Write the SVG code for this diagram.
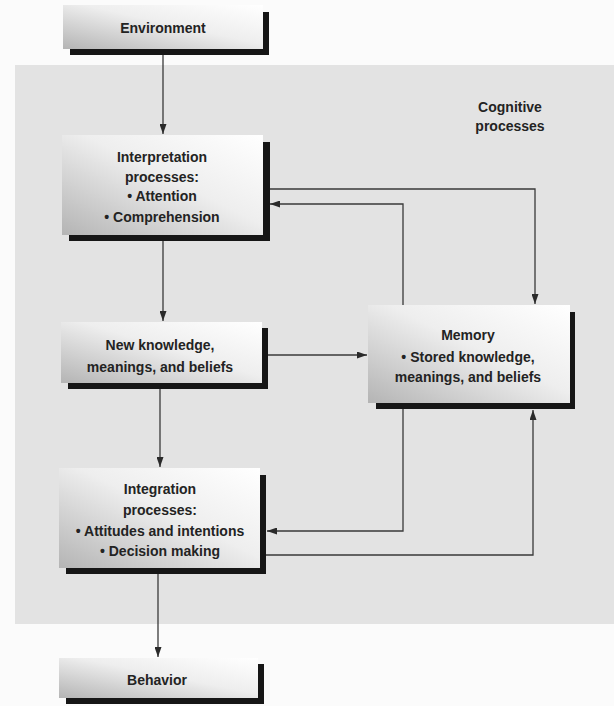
<svg xmlns="http://www.w3.org/2000/svg" width="614" height="706" viewBox="0 0 614 706">
  <style>
    .face { fill: url(#faceGrad); }
    .shadow { fill: #161616; }
    .lbl { font-family: "Liberation Sans", Arial, sans-serif; font-weight: bold; font-size: 14px; fill: #232323; text-anchor: middle; }
    .conn { fill: none; stroke: #3a3a3a; stroke-width: 1.3; }
  </style>
  <defs>
    <linearGradient id="faceGrad" x1="1" y1="0" x2="0" y2="1">
      <stop offset="0" stop-color="#ffffff"/>
      <stop offset="0.45" stop-color="#eeeeee"/>
      <stop offset="1" stop-color="#b4b4b4"/>
    </linearGradient>
    <marker id="arrow" markerWidth="10" markerHeight="7" refX="10" refY="3.5" orient="auto" markerUnits="userSpaceOnUse">
      <path d="M0,0 L10,3.5 L0,7 z" fill="#2a2a2a"/>
    </marker>
  </defs>

  <rect x="0" y="0" width="614" height="706" fill="#fbfbfb"/>
  <rect x="15" y="65" width="599" height="559" fill="#e3e3e3"/>

  <g id="connectors">
    <line class="conn" x1="163" y1="55" x2="163" y2="134" marker-end="url(#arrow)"/>
    <line class="conn" x1="163" y1="241" x2="163" y2="321" marker-end="url(#arrow)"/>
    <line class="conn" x1="268" y1="355" x2="367" y2="355" marker-end="url(#arrow)"/>
    <line class="conn" x1="160" y1="389" x2="160" y2="467" marker-end="url(#arrow)"/>
    <line class="conn" x1="158" y1="574" x2="158" y2="657" marker-end="url(#arrow)"/>
    <polyline class="conn" points="269,189 535,189 535,304" marker-end="url(#arrow)"/>
    <polyline class="conn" points="403,305 403,204 270,204" marker-end="url(#arrow)"/>
    <polyline class="conn" points="403,409 403,531 267,531" marker-end="url(#arrow)"/>
    <polyline class="conn" points="266,555 533,555 533,410" marker-end="url(#arrow)"/>
  </g>

  <g id="environment">
    <rect class="shadow" x="70" y="12" width="199" height="43"/>
    <rect class="face" x="63" y="5" width="200" height="44"/>
    <text class="lbl" x="163" y="33">Environment</text>
  </g>

  <g id="interpretation">
    <rect class="shadow" x="69" y="142" width="201" height="99"/>
    <rect class="face" x="62" y="135" width="201" height="100"/>
    <text class="lbl" x="162" y="162">Interpretation</text>
    <text class="lbl" x="162" y="182">processes:</text>
    <text class="lbl" x="162" y="201">• Attention</text>
    <text class="lbl" x="162" y="222">• Comprehension</text>
  </g>

  <g id="new-knowledge">
    <rect class="shadow" x="68" y="328" width="200" height="61"/>
    <rect class="face" x="61" y="322" width="201" height="61"/>
    <text class="lbl" x="160" y="350">New knowledge,</text>
    <text class="lbl" x="160" y="372">meanings, and beliefs</text>
  </g>

  <g id="memory">
    <rect class="shadow" x="376" y="312" width="199" height="97"/>
    <rect class="face" x="368" y="305" width="202" height="98"/>
    <text class="lbl" x="468" y="340">Memory</text>
    <text class="lbl" x="468" y="362">• Stored knowledge,</text>
    <text class="lbl" x="468" y="382">meanings, and beliefs</text>
  </g>

  <g id="integration">
    <rect class="shadow" x="66" y="475" width="200" height="99"/>
    <rect class="face" x="59" y="468" width="201" height="100"/>
    <text class="lbl" x="160" y="494">Integration</text>
    <text class="lbl" x="160" y="515">processes:</text>
    <text class="lbl" x="160" y="536">• Attitudes and intentions</text>
    <text class="lbl" x="160" y="556">• Decision making</text>
  </g>

  <g id="behavior">
    <rect class="shadow" x="66" y="664" width="198" height="40"/>
    <rect class="face" x="59" y="658" width="199" height="40"/>
    <text class="lbl" x="157" y="685">Behavior</text>
  </g>

  <g id="cognitive-label">
    <text class="lbl" x="510" y="112">Cognitive</text>
    <text class="lbl" x="510" y="131">processes</text>
  </g>
</svg>
